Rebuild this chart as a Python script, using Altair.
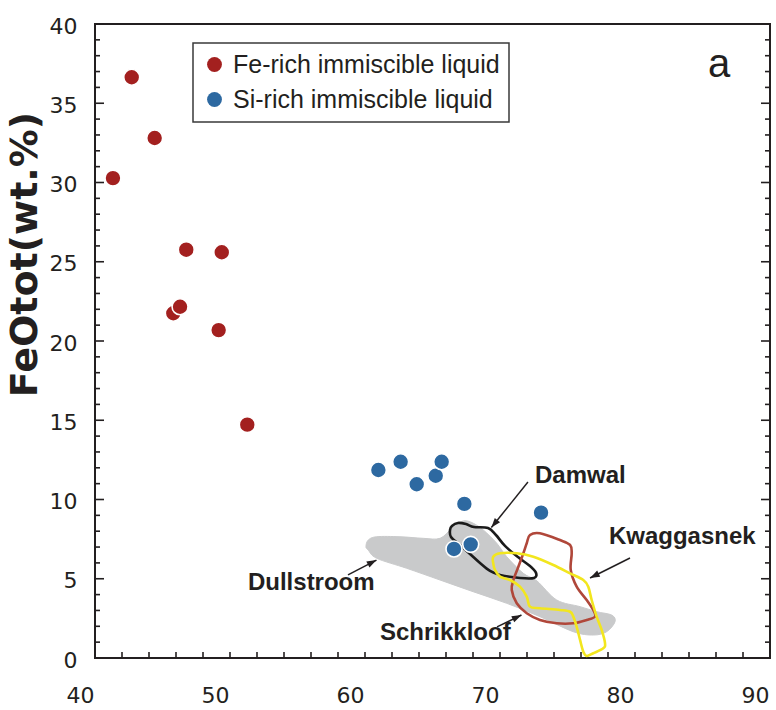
import math
import altair as alt
import pandas as pd

# ---- measured compositions (SiO2 wt.% vs FeOtot wt.%) ----
FE_SIO2 = [42.72, 44.42, 41.33, 46.76, 49.39, 45.80, 46.30, 49.16, 51.28]
FE_FEO = [36.64, 32.81, 30.28, 25.76, 25.60, 21.75, 22.16, 20.69, 14.72]
SI_SIO2 = [60.99, 62.64, 63.83, 65.24, 65.68, 67.36, 73.04, 66.59, 67.83]
SI_FEO = [11.86, 12.38, 10.96, 11.50, 12.38, 9.72, 9.17, 6.88, 7.17]
GROUPS = ["Fe-rich immiscible liquid", "Si-rich immiscible liquid"]

# ---- compositional fields of the granophyre / rhyolite suites ----
DULL_X = [60.07, 60.24, 60.87, 62.59, 64.32, 65.56, 66.42, 66.91, 67.41, 68.02,
          68.76, 69.76, 70.50, 71.73, 72.74, 74.20, 75.93, 77.16, 78.27, 78.52,
          77.90, 76.91, 75.43, 72.96, 70.50, 68.02, 65.56, 63.09, 60.87, 60.24]
DULL_Y = [7.02, 7.44, 7.65, 7.65, 7.55, 7.55, 8.18, 8.50, 8.66, 8.50,
          8.08, 7.24, 6.39, 5.34, 4.86, 3.66, 3.24, 2.92, 2.71, 2.29,
          1.66, 1.45, 1.66, 2.61, 3.45, 4.18, 4.92, 5.66, 6.29, 6.81]

DAM_X = [66.44, 66.89, 67.48, 68.07, 69.11, 69.70, 70.37, 71.33, 72.22, 72.67,
         72.52, 71.48, 70.00, 69.26, 68.52, 67.78, 67.04, 66.37, 66.30]
DAM_Y = [8.33, 8.52, 8.45, 8.26, 8.20, 7.76, 7.07, 6.37, 5.80, 5.36,
         5.05, 5.05, 5.24, 5.49, 5.99, 6.56, 7.13, 7.63, 8.08]

KWA_X = [72.22, 72.96, 74.44, 75.19, 75.31, 75.24, 75.68, 76.42, 76.91, 77.04,
         76.42, 75.43, 74.20, 72.96, 71.98, 71.24, 70.87, 70.99, 71.36, 71.73, 71.98]
KWA_Y = [7.76, 7.87, 7.44, 7.13, 6.61, 5.55, 4.50, 3.66, 3.03, 2.61,
         2.40, 2.19, 2.19, 2.40, 2.82, 3.45, 4.29, 4.92, 5.76, 6.61, 7.24]

SCH_X = [69.50, 70.00, 71.24, 72.47, 73.95, 75.19, 76.17, 76.54, 76.79, 77.16,
         77.53, 77.78, 77.65, 76.91, 76.42, 76.17, 75.93, 75.68, 75.43, 75.19,
         74.44, 72.96, 72.22, 71.98, 71.48, 70.74, 70.00, 69.63, 69.50]
SCH_Y = [6.39, 6.61, 6.61, 6.39, 5.87, 5.34, 4.92, 4.50, 3.66, 2.61,
         1.77, 0.93, 0.61, 0.30, 0.13, 0.40, 1.14, 1.97, 2.61, 2.92,
         3.03, 3.14, 3.24, 3.87, 4.50, 4.92, 5.13, 5.55, 5.97]

# ---- field names and their leader arrows (data units) ----
FIELD_NAMES = ["Damwal", "Kwaggasnek", "Dullstroom", "Schrikkloof"]
NAME_X = [72.59, 78.07, 51.33, 61.11]
NAME_Y = [11.04, 7.19, 4.29, 1.14]
ARROW_X0 = [72.07, 79.63, 58.74, 69.78]
ARROW_Y0 = [11.10, 6.31, 5.24, 1.96]
ARROW_X1 = [69.36, 76.67, 60.85, 71.59]
ARROW_Y1 = [8.23, 5.05, 6.18, 2.71]

PANEL_TAG = "a"
PANEL_X, PANEL_Y = 85.41, 36.66

X_TICK_LABELS = [40, 50, 60, 70, 80, 90]
Y_TICK_LABELS = [0, 5, 10, 15, 20, 25, 30, 35, 40]

# ---- layout / style ----
W, H = 675, 634
X_DOM, Y_DOM = [40, 90], [0, 40]
INK = "#231f20"
RED, BLUE = "#a3201f", "#2d69a1"

x_scale = alt.Scale(domain=X_DOM, nice=False, zero=False)
y_scale = alt.Scale(domain=Y_DOM, nice=False, zero=False)

x_axis = alt.Axis(values=X_TICK_LABELS, title=None, ticks=False, domain=False, grid=False,
                  labelFont="DejaVu Sans", labelFontSize=22, labelColor=INK,
                  labelPadding=27, labelOffset=-15, labelFlush=False, labelOverlap=False)
y_axis = alt.Axis(values=Y_TICK_LABELS, title="FeOtot(wt.%)", ticks=False, domain=False, grid=False,
                  labelFont="DejaVu Sans", labelFontSize=22, labelColor=INK,
                  labelPadding=18, labelOffset=2, labelOverlap=False,
                  titleFont="DejaVu Sans", titleFontWeight="bold", titleFontSize=38,
                  titleColor=INK, titleAngle=270, titleAlign="center",
                  titleBaseline="alphabetic", titleX=-59, titleY=230)


def X(field):
    return alt.X(field, type="quantitative", scale=x_scale, axis=x_axis)


def Y(field):
    return alt.Y(field, type="quantitative", scale=y_scale, axis=y_axis)


def ring(xs, ys):
    return pd.DataFrame({"x": xs, "y": ys, "i": list(range(len(xs)))})


# Dullstroom: filled grey field
dull = alt.Chart(ring(DULL_X, DULL_Y)).mark_line(
    interpolate="cardinal-closed", fill="#c9cacb", stroke="#c9cacb", strokeWidth=1
).encode(x=X("x"), y=Y("y"), order="i:Q")


def outline(xs, ys, color):
    return alt.Chart(ring(xs, ys)).mark_line(
        interpolate="cardinal-closed", stroke=color, strokeWidth=2.6
    ).encode(x=X("x"), y=Y("y"), order="i:Q")


damwal = outline(DAM_X, DAM_Y, "#1b1b1b")
kwagga = outline(KWA_X, KWA_Y, "#b0473a")
schrik = outline(SCH_X, SCH_Y, "#f2e61e")

# inward tick marks on left, right and bottom edges
minor_y = pd.DataFrame({"v": [v for v in range(0, 41) if v % 5]})
major_y = pd.DataFrame({"v": [v for v in range(0, 41, 5)]})
bottom_x = pd.DataFrame({"v": list(range(42, 90, 2))})


def side_ticks(df, length):
    left = alt.Chart(df).mark_rule(color=INK, strokeWidth=1.6).encode(
        y=Y("v"), x=alt.value(0), x2=alt.value(length))
    right = alt.Chart(df).mark_rule(color=INK, strokeWidth=1.6).encode(
        y=Y("v"), x=alt.value(W - length), x2=alt.value(W))
    return left + right


ticks = side_ticks(minor_y, 5) + side_ticks(major_y, 9) + alt.Chart(bottom_x).mark_rule(
    color=INK, strokeWidth=1.6).encode(x=X("v"), y=alt.value(H - 6), y2=alt.value(H))

# arrows
arrows = pd.DataFrame({"x0": ARROW_X0, "y0": ARROW_Y0, "x1": ARROW_X1, "y1": ARROW_Y1})
px_x = W / (X_DOM[1] - X_DOM[0])
px_y = H / (Y_DOM[1] - Y_DOM[0])
arrows["ang"] = [
    math.degrees(math.atan2((x1 - x0) * px_x, (y1 - y0) * px_y)) % 360
    for x0, y0, x1, y1 in zip(ARROW_X0, ARROW_Y0, ARROW_X1, ARROW_Y1)
]
shafts = alt.Chart(arrows).mark_rule(color=INK, strokeWidth=1.5).encode(
    x=X("x0"), y=Y("y0"), x2="x1:Q", y2="y1:Q")
heads = alt.Chart(arrows).mark_point(
    shape="M0,0L-0.42,1.2L0.42,1.2Z", filled=True, size=260, color=INK, opacity=1
).encode(x=X("x1"), y=Y("y1"), angle=alt.Angle("ang:Q", scale=None))

# sample points
pts = pd.DataFrame({
    "x": FE_SIO2 + SI_SIO2,
    "y": FE_FEO + SI_FEO,
    "group": [GROUPS[0]] * len(FE_SIO2) + [GROUPS[1]] * len(SI_SIO2),
})
points = alt.Chart(pts).mark_point(
    filled=True, size=255, stroke="white", strokeWidth=1.6, opacity=1
).encode(
    x=X("x"), y=Y("y"),
    color=alt.Color("group:N", scale=alt.Scale(domain=GROUPS, range=[RED, BLUE]),
                    legend=alt.Legend(orient="none", legendX=98, legendY=19, title=None,
                                      fillColor="white", strokeColor="#3a3a3a",
                                      padding=9, rowPadding=9, labelOffset=6,
                                      labelFont="Liberation Sans", labelFontSize=25,
                                      labelColor=INK, labelLimit=500,
                                      symbolType="circle", symbolSize=220,
                                      symbolStrokeWidth=0, symbolOpacity=1)),
)

names = alt.Chart(pd.DataFrame({"t": FIELD_NAMES, "x": NAME_X, "y": NAME_Y})).mark_text(
    align="left", baseline="alphabetic", font="Liberation Sans", fontWeight="bold",
    fontSize=24, color=INK
).encode(x=X("x"), y=Y("y"), text="t:N")

tag = alt.Chart(pd.DataFrame({"t": [PANEL_TAG], "x": [PANEL_X], "y": [PANEL_Y]})).mark_text(
    align="left", baseline="alphabetic", font="Liberation Sans", fontSize=40, color=INK
).encode(x=X("x"), y=Y("y"), text="t:N")

chart = alt.layer(
    dull, damwal, kwagga, schrik, ticks, shafts, heads, points, names, tag
).properties(
    width=W, height=H, autosize="none",
    padding={"left": 95, "top": 24, "right": 6, "bottom": 52},
).configure_view(
    stroke=INK, strokeWidth=2
).configure_legend(
    strokeWidth=1.5
)

chart.save("out.html", embed_options={"renderer": "svg", "actions": False})
